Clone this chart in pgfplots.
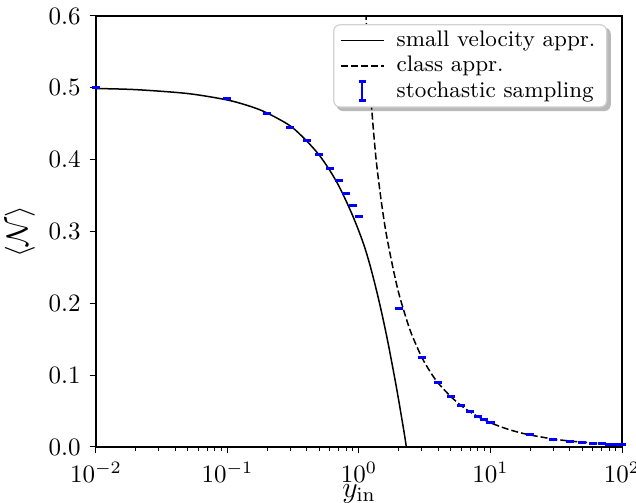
\documentclass[border=0pt]{standalone}
\usepackage{pgfplots}
\pgfplotsset{compat=1.18}
\usepackage{pgfplotstable}
\usetikzlibrary{backgrounds}

\pgfplotstableread{
x y
0.01 0.499
0.02 0.4975
0.05 0.492
0.1 0.483
0.15 0.474
0.2 0.465
0.3 0.447
0.4 0.426
0.5 0.406
0.6 0.385
0.7 0.364
0.8 0.342
0.9 0.321
1.0 0.300
1.1 0.279
1.2 0.256
1.3 0.232
1.4 0.208
1.5 0.184
1.6 0.160
1.7 0.136
1.8 0.112
1.9 0.089
2.0 0.066
2.1 0.043
2.2 0.021
2.3 -0.002
2.5 -0.05
}\smallvel

\pgfplotstableread{
x y
1.10 0.66
1.13 0.60
1.18 0.54
1.25 0.47
1.35 0.40
1.47 0.345
1.6 0.30
1.8 0.252
2.0 0.215
2.25 0.183
2.5 0.158
3.0 0.125
3.5 0.104
4.0 0.089
5.0 0.070
6.0 0.0574
7.0 0.0488
8.0 0.0424
10 0.0337
13 0.0258
16 0.0209
20 0.0167
30 0.0111
40 0.0083
50 0.0067
70 0.0048
100 0.0033
}\classappr

\pgfplotstableread{
x y e
0.01 0.501 0.0008
0.1 0.4847 0.0008
0.2 0.4638 0.0008
0.3 0.4452 0.0008
0.4 0.4262 0.0008
0.5 0.4067 0.0008
0.6 0.388 0.0008
0.7 0.371 0.0008
0.8 0.3533 0.0008
0.9 0.336 0.0008
1.0 0.3203 0.0008
2 0.193 0.0008
3 0.124 0.0008
4 0.0896 0.0008
5 0.070 0.0008
6 0.0578 0.0008
7 0.049 0.0008
8 0.042 0.0008
9 0.0376 0.0008
10 0.0336 0.0008
20 0.0167 0.0008
30 0.0111 0.0008
40 0.0083 0.0008
50 0.0066 0.0008
60 0.0055 0.0008
70 0.0047 0.0008
80 0.0041 0.0008
90 0.0037 0.0008
100 0.0033 0.0008
}\stoch

\begin{document}
\begin{tikzpicture}
\begin{axis}[
  scale only axis,
  width=210.4pt, height=172.4pt,
  xmode=log, xmin=0.01, xmax=100,
  ymin=0, ymax=0.6,
  ytick={0,0.1,0.2,0.3,0.4,0.5,0.6},
  yticklabel style={/pgf/number format/.cd, fixed, fixed zerofill, precision=1},
  tick align=outside,
  xtick pos=left, ytick pos=left,
  major tick length=2.6pt, minor tick length=1.5pt,
  tick style={black, line width=0.4pt},
  axis line style={line width=0.6pt},
  xlabel={$y_{\mathrm{in}}$},
  ylabel={$\langle \mathcal{N} \rangle$},
  label style={font=\fontsize{11.5}{13}\selectfont},
  xlabel style={at={(axis description cs:0.5,0)}, anchor=base, yshift=-20.2pt},
  ylabel style={at={(axis description cs:0,0.5)}, anchor=center, yshift=30.4pt},
  legend cell align=left,
  legend style={
    name=leg,
    at={(rel axis cs:0.972,0.981)}, anchor=north east,
    font=\small,
    draw=gray!35, line width=0.5pt, rounded corners=2.5pt, fill=white,
    row sep=0pt, inner xsep=2.5pt, inner ysep=1.2pt,
    nodes={inner xsep=2pt, inner ysep=1.2pt},
    /tikz/every odd column/.append style={column sep=3pt},
  },
]
\addplot[black, line width=0.6pt, smooth] table[x=x, y=y] {\smallvel};
\addlegendentry{small velocity appr.}
\addplot[black, line width=0.6pt, dash pattern=on 2.8pt off 1.2pt, smooth] table[x=x, y=y] {\classappr};
\addlegendentry{class appr.}
\addplot[blue, only marks, mark=-, mark options={blue, line width=1.2pt, mark size=1.6pt}, forget plot,
  error bars/.cd, y dir=both, y explicit, error mark=none,
  error bar style={blue, line width=1.2pt},
  ]
  table[x=x, y=y, y error=e] {\stoch};
\addlegendimage{legend image code/.code={
  \draw[blue, line width=0.7pt] (0.3cm,-3.8pt) -- (0.3cm,3.8pt);
  \draw[blue, line width=1.1pt] (0.3cm-1.4pt,-3.8pt) -- (0.3cm+1.4pt,-3.8pt);
  \draw[blue, line width=1.1pt] (0.3cm-1.4pt,3.8pt) -- (0.3cm+1.4pt,3.8pt);
}}
\addlegendentry{stochastic sampling}
\end{axis}
\begin{scope}[on background layer]
\fill[gray!55, rounded corners=2.5pt] ([shift={(1.4pt,-1.4pt)}]leg.south west) rectangle ([shift={(1.4pt,-1.4pt)}]leg.north east);
\end{scope}
\pgfresetboundingbox
\path (current axis.south west) ++(-38.4pt,-22.4pt) rectangle ([shift={(5.6pt,6.4pt)}]current axis.north east);
\end{tikzpicture}
\end{document}
